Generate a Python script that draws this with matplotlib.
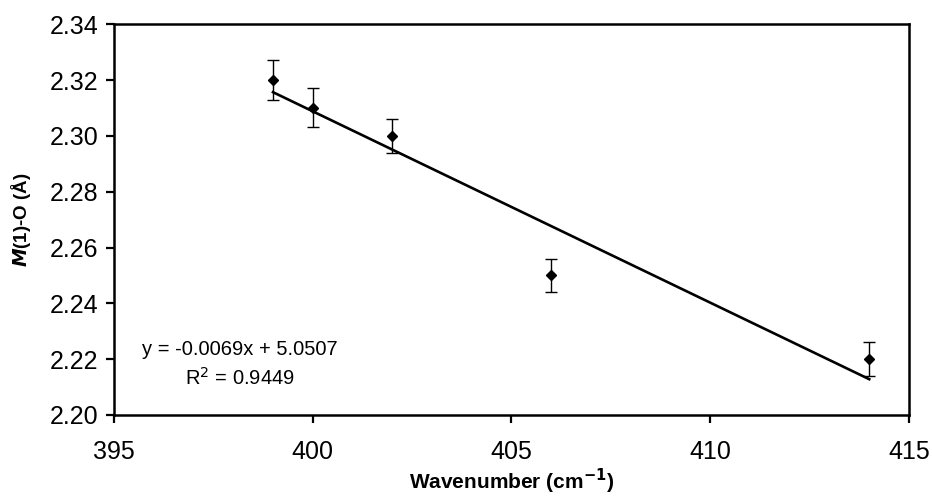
import matplotlib.pyplot as plt
import numpy as np

plt.rcParams["font.family"] = ["Liberation Sans", "DejaVu Sans"]

wavenumber = [399, 400, 402, 406, 414]
m1_o = [2.32, 2.31, 2.30, 2.25, 2.22]
m1_o_err = [0.007, 0.007, 0.006, 0.006, 0.006]

x_ticks = [395, 400, 405, 410, 415]
y_ticks = [2.20, 2.22, 2.24, 2.26, 2.28, 2.30, 2.32, 2.34]

# linear trendline, as in the spreadsheet
slope, intercept = np.polyfit(wavenumber, m1_o, 1)
pred = np.polyval([slope, intercept], wavenumber)
ss_res = np.sum((np.array(m1_o) - pred) ** 2)
ss_tot = np.sum((np.array(m1_o) - np.mean(m1_o)) ** 2)
r2 = 1 - ss_res / ss_tot

fig = plt.figure(figsize=(9.32, 5.01), dpi=100)
ax = fig.add_axes([0.1223, 0.1717, 0.853, 0.780])

fit_x = np.array([min(wavenumber), max(wavenumber)])
ax.plot(fit_x, slope * fit_x + intercept, color="black", lw=1.9, zorder=2)
ax.errorbar(wavenumber, m1_o, yerr=m1_o_err, fmt="D", color="black",
            markersize=5.5, elinewidth=1.0, capsize=4.5, capthick=1.0, zorder=3)

ax.set_xlim(395, 415)
ax.set_ylim(2.20, 2.34)
ax.set_xticks(x_ticks)
ax.set_yticks(y_ticks)
ax.set_xticklabels([str(t) for t in x_ticks])
ax.set_yticklabels([f"{t:.2f}" for t in y_ticks])
ax.tick_params(labelsize=18, width=1.6, length=6, color="black")
ax.tick_params(axis="x", pad=12)
ax.tick_params(axis="y", pad=5)
for s in ax.spines.values():
    s.set_linewidth(1.8)

ax.set_xlabel(r"Wavenumber (cm$^{\mathbf{-1}}$)", fontsize=15, fontweight="bold", labelpad=2)
ax.set_ylabel(r"$\boldsymbol{M}$(1)-O (Å)", fontsize=13.5, fontweight="bold", labelpad=12)

ax.text(0.158, 0.168, f"y = {slope:.4f}x + {intercept:.4f}", transform=ax.transAxes,
        ha="center", va="center", fontsize=14.5)
ax.text(0.158, 0.094, f"R$^2$ = {r2:.4f}", transform=ax.transAxes,
        ha="center", va="center", fontsize=14.5)

fig.savefig("out.png", dpi=100)
